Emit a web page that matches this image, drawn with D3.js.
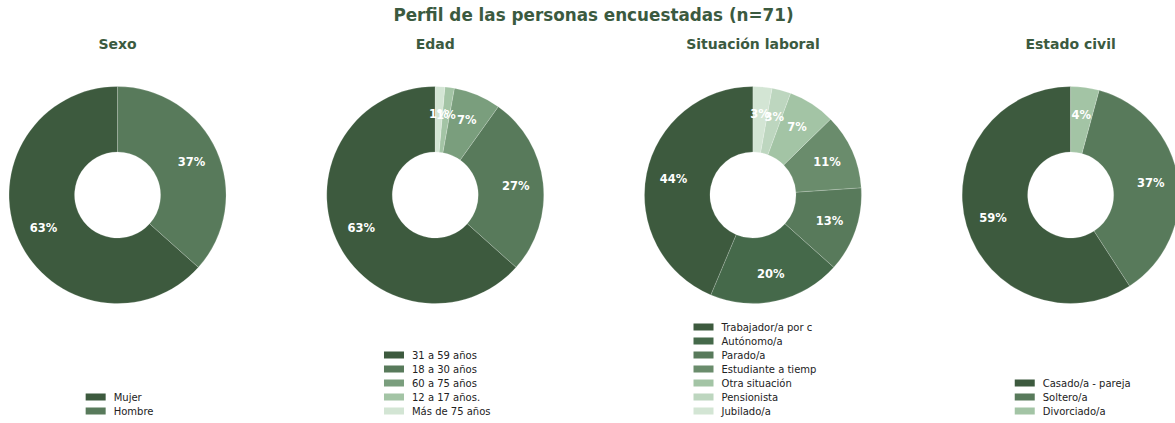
<!DOCTYPE html>
<html>
<head>
<meta charset="utf-8">
<script src="https://cdn.jsdelivr.net/npm/d3@7"></script>
<style>
  html, body { margin: 0; padding: 0; background: #fff; }
  svg { display: block; font-family: "DejaVu Sans", sans-serif; }
</style>
</head>
<body>
<svg id="chart" width="1175" height="423"></svg>
<script>
// ---- Data (counts, n = 71) ----
const chartTitles = ["Sexo", "Edad", "Situación laboral", "Estado civil"];

const sexoLabels = ["Mujer", "Hombre"];
const sexoValues = [45, 26];

const edadLabels = ["31 a 59 años", "18 a 30 años", "60 a 75 años", "12 a 17 años.", "Más de 75 años"];
const edadValues = [45, 19, 5, 1, 1];

const laboralLabels = ["Trabajador/a por c", "Autónomo/a", "Parado/a", "Estudiante a tiemp", "Otra situación", "Pensionista", "Jubilado/a"];
const laboralValues = [31, 14, 9, 8, 5, 2, 2];

const civilLabels = ["Casado/a - pareja", "Soltero/a", "Divorciado/a"];
const civilValues = [42, 26, 3];

const mainTitle = "Perfil de las personas encuestadas (n=71)";

// ---- Colours ----
const sexoColors = ["#3d5a3e", "#587a5b"];
const edadColors = ["#3d5a3e", "#587a5b", "#7a9e7d", "#a3c4a5", "#d3e5d4"];
const laboralColors = ["#3d5a3e", "#45694a", "#587a5b", "#6a8c6c", "#a3c4a5", "#bdd6bf", "#d3e5d4"];
const civilColors = ["#3d5a3e", "#587a5b", "#a3c4a5"];

const charts = [
  { title: chartTitles[0], labels: sexoLabels, values: sexoValues, colors: sexoColors },
  { title: chartTitles[1], labels: edadLabels, values: edadValues, colors: edadColors },
  { title: chartTitles[2], labels: laboralLabels, values: laboralValues, colors: laboralColors },
  { title: chartTitles[3], labels: civilLabels, values: civilValues, colors: civilColors }
];

const svg = d3.select("#chart");
const W = 1175;
const titleColor = "#3b5a3f";

svg.append("text")
  .attr("x", W / 2 + 6).attr("y", 21)
  .attr("text-anchor", "middle")
  .attr("font-weight", "bold")
  .attr("font-size", 16.8)
  .attr("fill", titleColor)
  .text(mainTitle);

const xBand = d3.scaleBand().domain(chartTitles).range([-41.3, -41.3 + 4 * 317.7]);
const cy = 195;
const R = 108.5, r0 = 43, labelR = 81;

const pie = d3.pie().sort(null).value(d => d).startAngle(0).endAngle(-2 * Math.PI);
const arc = d3.arc().innerRadius(r0).outerRadius(R);
const labelArc = d3.arc().innerRadius(labelR).outerRadius(labelR);

charts.forEach(c => {
  const cx = xBand(c.title) + xBand.bandwidth() / 2;
  const g = svg.append("g");

  g.append("text")
    .attr("x", cx).attr("y", 49)
    .attr("text-anchor", "middle")
    .attr("font-weight", "bold")
    .attr("font-size", 14)
    .attr("fill", titleColor)
    .text(c.title);

  const total = d3.sum(c.values);
  const arcs = pie(c.values);
  const pg = g.append("g").attr("transform", `translate(${cx},${cy})`);
  pg.selectAll("path").data(arcs).join("path")
    .attr("d", arc)
    .attr("fill", (d, i) => c.colors[i])
    .attr("stroke", "#ffffff")
    .attr("stroke-width", 0.6)
    .attr("stroke-opacity", 0.3);

  pg.selectAll("text").data(arcs).join("text")
    .attr("transform", d => `translate(${labelArc.centroid(d)})`)
    .attr("text-anchor", "middle")
    .attr("dominant-baseline", "central")
    .attr("font-weight", "bold")
    .attr("font-size", 11.5)
    .attr("fill", "#ffffff")
    .text(d => Math.round(d.value / total * 100) + "%");

  // legend, bottom-aligned, centered under pie
  const rowH = 14;
  const n = c.labels.length;
  const lg = g.append("g");
  const items = lg.selectAll("g").data(c.labels).join("g")
    .attr("transform", (d, i) => `translate(0,${411 - (n - 1 - i) * rowH})`);
  items.append("rect")
    .attr("x", 0).attr("y", -3.5)
    .attr("width", 20).attr("height", 7)
    .attr("fill", (d, i) => c.colors[i]);
  items.append("text")
    .attr("x", 28).attr("y", 0)
    .attr("dominant-baseline", "central")
    .attr("font-size", 10)
    .attr("fill", "#222")
    .text(d => d);
  const bb = lg.node().getBBox();
  lg.attr("transform", `translate(${cx - bb.width / 2 + 2},0)`);
});
</script>
</body>
</html>
